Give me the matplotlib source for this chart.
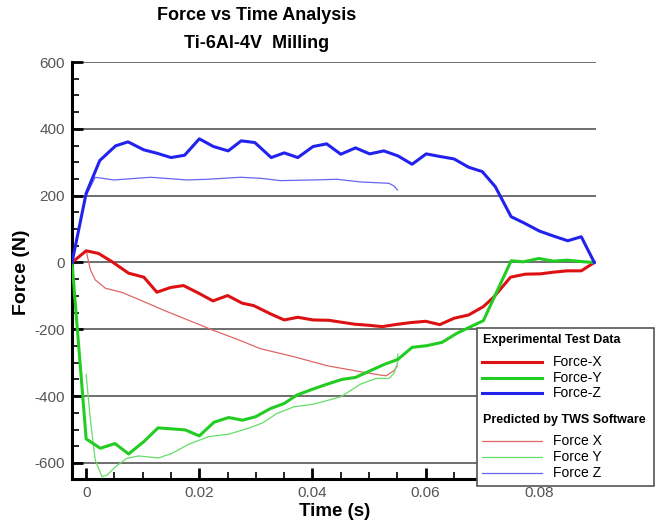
import matplotlib
matplotlib.use("Agg")
import matplotlib.pyplot as plt
from matplotlib.lines import Line2D
from matplotlib.patches import Rectangle
from matplotlib.ticker import MultipleLocator

plt.rcParams['font.family'] = ['Liberation Sans', 'DejaVu Sans']
plt.rcParams['axes.unicode_minus'] = False

# Experimental data
exp_x_t = [-0.0025, 0.0, 0.0022, 0.0046, 0.0075, 0.0102, 0.0125, 0.0149, 0.0172, 0.0199, 0.0224, 0.025,
           0.0276, 0.0296, 0.0326, 0.035, 0.0374, 0.0401, 0.0429, 0.0452, 0.0476, 0.05, 0.0523, 0.055,
           0.0573, 0.06, 0.0625, 0.065, 0.0676, 0.0702, 0.072, 0.075, 0.0776, 0.0803, 0.0826, 0.085,
           0.0875, 0.0898]
exp_x_f = [0, 35, 27, 2, -32, -44, -89, -75, -69, -92, -115, -99,
           -122, -129, -154, -172, -164, -172, -173, -179, -185, -188, -192, -185,
           -180, -176, -186, -167, -157, -132, -104, -44, -35, -34, -29, -25,
           -25, 0]

exp_y_t = [-0.0025, 0.0, 0.0025, 0.0051, 0.0075, 0.0102, 0.0127, 0.0151, 0.0175, 0.02, 0.0226, 0.0252,
           0.0276, 0.0299, 0.0326, 0.035, 0.0372, 0.0399, 0.0426, 0.0452, 0.0476, 0.0502, 0.0527, 0.0551,
           0.0576, 0.0602, 0.0629, 0.0655, 0.0702, 0.0751, 0.0773, 0.08, 0.0826, 0.085, 0.088, 0.0898]
exp_y_f = [0, -528, -556, -542, -573, -536, -495, -498, -501, -519, -478, -464,
           -472, -462, -437, -422, -397, -380, -364, -350, -344, -324, -305, -290,
           -254, -249, -239, -212, -174, 5, 2, 12, 4, 7, 2, 0]

exp_z_t = [-0.0025, 0.0, 0.0024, 0.0052, 0.0074, 0.0102, 0.0125, 0.015, 0.0174, 0.02, 0.0225, 0.0251,
           0.0274, 0.0298, 0.0327, 0.035, 0.0374, 0.0401, 0.0425, 0.045, 0.0476, 0.0501, 0.0526, 0.0551,
           0.0576, 0.0601, 0.0626, 0.065, 0.0676, 0.07, 0.0723, 0.0751, 0.0773, 0.0801, 0.0826, 0.0851,
           0.0875, 0.0898]
exp_z_f = [0, 207, 305, 349, 361, 337, 327, 314, 321, 370, 347, 334,
           364, 359, 314, 328, 314, 347, 355, 324, 343, 325, 334, 319,
           294, 325, 317, 310, 285, 272, 227, 137, 119, 94, 79, 65,
           77, 0]

# Predicted data (TWS Software)
pred_x_t = [0.0, 0.00076, 0.0016, 0.0034, 0.0064, 0.0099, 0.014, 0.0187, 0.0223, 0.027, 0.0308, 0.0367,
            0.0426, 0.0485, 0.052, 0.053, 0.0544, 0.055]
pred_x_f = [35, -22, -52, -77, -90, -115, -145, -177, -202, -232, -258, -282,
            -309, -327, -337, -339, -324, -310]

pred_y_t = [0.0, 0.00076, 0.0016, 0.0028, 0.0037, 0.0052, 0.0072, 0.0093, 0.0128, 0.0152, 0.0181, 0.0217,
            0.0252, 0.0287, 0.0312, 0.0337, 0.0367, 0.0402, 0.045, 0.0485, 0.0512, 0.0535, 0.0544, 0.055,
            0.0551]
pred_y_f = [-335, -472, -591, -641, -636, -611, -586, -579, -585, -571, -544, -521,
            -514, -496, -480, -452, -432, -424, -402, -364, -347, -347, -332, -302,
            -274]

pred_z_t = [0.0, 0.0016, 0.0049, 0.0114, 0.0178, 0.0214, 0.0273, 0.0308, 0.0343, 0.0402, 0.0443, 0.0485,
            0.0535, 0.0544, 0.055]
pred_z_f = [200, 255, 247, 255, 247, 249, 255, 252, 245, 247, 249, 241,
            237, 229, 217]

x_ticks = [0, 0.02, 0.04, 0.06, 0.08]
x_tick_labels = ['0', '0.02', '0.04', '0.06', '0.08']

c_ex, c_ey, c_ez = '#dd1111', '#22cc22', '#2222ee'
c_px, c_py, c_pz = '#e06666', '#66dd66', '#6666ee'

fig = plt.figure(figsize=(6.6, 5.22), dpi=100)
ax = fig.add_axes([72/660, 1-479/522, (596-72)/660, (479-62)/522])

ax.plot(exp_x_t, exp_x_f, color=c_ex, lw=2.2, zorder=4)
ax.plot(exp_y_t, exp_y_f, color=c_ey, lw=2.2, zorder=4)
ax.plot(exp_z_t, exp_z_f, color=c_ez, lw=2.2, zorder=4)
ax.plot(pred_x_t, pred_x_f, color=c_px, lw=0.9, zorder=3)
ax.plot(pred_y_t, pred_y_f, color=c_py, lw=0.9, zorder=3)
ax.plot(pred_z_t, pred_z_f, color=c_pz, lw=0.9, zorder=3)

ax.set_xlim(-0.0025, 0.0901)
ax.set_ylim(-648, 600)
ax.yaxis.set_major_locator(MultipleLocator(200))
ax.yaxis.set_minor_locator(MultipleLocator(50))
ax.xaxis.set_minor_locator(MultipleLocator(0.005))
ax.set_xticks(x_ticks)
ax.set_xticklabels(x_tick_labels)
ax.grid(axis='y', which='major', color='#555555', lw=1.2, zorder=1)
ax.set_axisbelow(True)
for s in ['top', 'right']:
    ax.spines[s].set_visible(False)
for s in ['left', 'bottom']:
    ax.spines[s].set_linewidth(2.2)
    ax.spines[s].set_color('black')
ax.tick_params(which='major', direction='in', length=8, width=2, color='black',
               labelsize=11, labelcolor='#555555', pad=5)
ax.tick_params(which='minor', direction='in', length=5, width=1.2, color='black')

fig.text(257/660, 1-15/522, 'Force vs Time Analysis', ha='center', va='center',
         fontsize=13, fontweight='bold')
fig.text(257/660, 1-43/522, 'Ti-6Al-4V  Milling', ha='center', va='center',
         fontsize=13, fontweight='bold')
fig.text(22/660, 1-272/522, 'Force (N)', rotation=90, ha='center', va='center',
         fontsize=14, fontweight='bold')
fig.text(335/660, 1-511/522, 'Time (s)', ha='center', va='center',
         fontsize=13.5, fontweight='bold')

# Legend box (drawn in figure pixel coordinates)
W, H = 660, 522
def fx(x):
    return x / W
def fy(y):
    return 1 - y / H

fig.add_artist(Rectangle((fx(476.7), fy(485.7)), (654.3-476.7)/W, (485.7-327.7)/H,
                         transform=fig.transFigure, facecolor='white', edgecolor='#555555',
                         lw=1.2, zorder=10))
fig.text(fx(482.7), fy(340), 'Experimental Test Data', fontsize=9, fontweight='bold',
         va='center', ha='left', zorder=11)
fig.text(fx(482.7), fy(420), 'Predicted by TWS Software', fontsize=9, fontweight='bold',
         va='center', ha='left', zorder=11)
entries = [(361.7, c_ex, 2.2, 'Force-X'), (377.7, c_ey, 2.2, 'Force-Y'), (393.3, c_ez, 2.2, 'Force-Z'),
           (440.7, c_px, 0.9, 'Force X'), (456.7, c_py, 0.9, 'Force Y'), (473.3, c_pz, 0.9, 'Force Z')]
for y, c, lw, lab in entries:
    fig.add_artist(Line2D([fx(481.7), fx(541.7)], [fy(y), fy(y)], transform=fig.transFigure,
                          color=c, lw=lw, zorder=11))
    fig.text(fx(552.7), fy(y), lab, fontsize=10, va='center', ha='left', zorder=11)

fig.savefig('out.png', dpi=100)
